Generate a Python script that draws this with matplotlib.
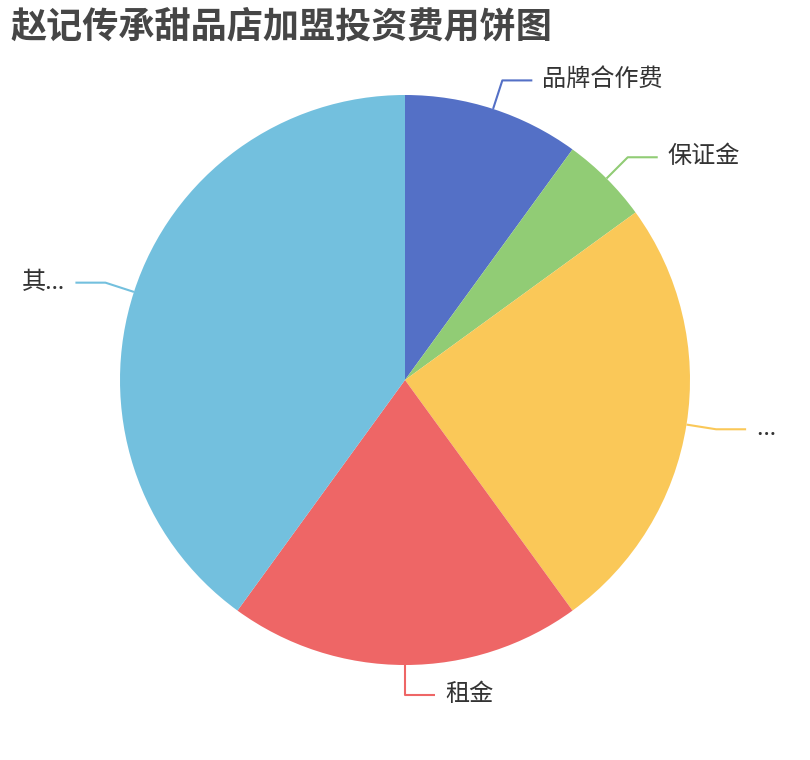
import numpy as np
import matplotlib
matplotlib.use("Agg")
import matplotlib.pyplot as plt

plt.rcParams['font.family'] = ['Noto Sans CJK SC', 'DejaVu Sans']

title = "赵记传承甜品店加盟投资费用饼图"
labels = ["品牌合作费", "保证金", "…", "租金", "其…"]
values = [10, 5, 25, 20, 40]
colors = ["#5470c6", "#91cc75", "#fac858", "#ee6666", "#73c0de"]

W, H = 810, 760
fig = plt.figure(figsize=(W / 100, H / 100), dpi=100)
ax = fig.add_axes([0, 0, 1, 1])
ax.set_xlim(0, W)
ax.set_ylim(0, H)
ax.set_aspect('equal')
ax.axis('off')

cx, cy, R = 405, 380, 285
wedges, _ = ax.pie(values, colors=colors, startangle=90, counterclock=False,
                   center=(cx, cy), radius=R, frame=True,
                   wedgeprops=dict(linewidth=0))
ax.set_xlim(0, W)
ax.set_ylim(0, H)
ax.axis('off')

L1, L2, gap = 30, 30, 10
for w, lab, col in zip(wedges, labels, colors):
    ang = np.deg2rad((w.theta1 + w.theta2) / 2)
    x0, y0 = cx + R * np.cos(ang), cy + R * np.sin(ang)
    x1, y1 = cx + (R + L1) * np.cos(ang), cy + (R + L1) * np.sin(ang)
    side = 1 if np.cos(ang) >= -1e-6 else -1
    x2 = x1 + side * L2
    ax.plot([x0, x1, x2], [y0, y1, y1], color=col, lw=1.5, solid_capstyle='butt')
    ax.text(x2 + side * gap, y1, lab, ha='left' if side > 0 else 'right',
            va='center', fontsize=17.4, color='#333333',
            family=['Noto Sans', 'Noto Sans CJK SC'])

fig.text(10 / W, 1 - 27 / H, title, fontsize=26, fontweight='bold',
         color='#464646', ha='left', va='center')

fig.savefig("out.png", dpi=100)
